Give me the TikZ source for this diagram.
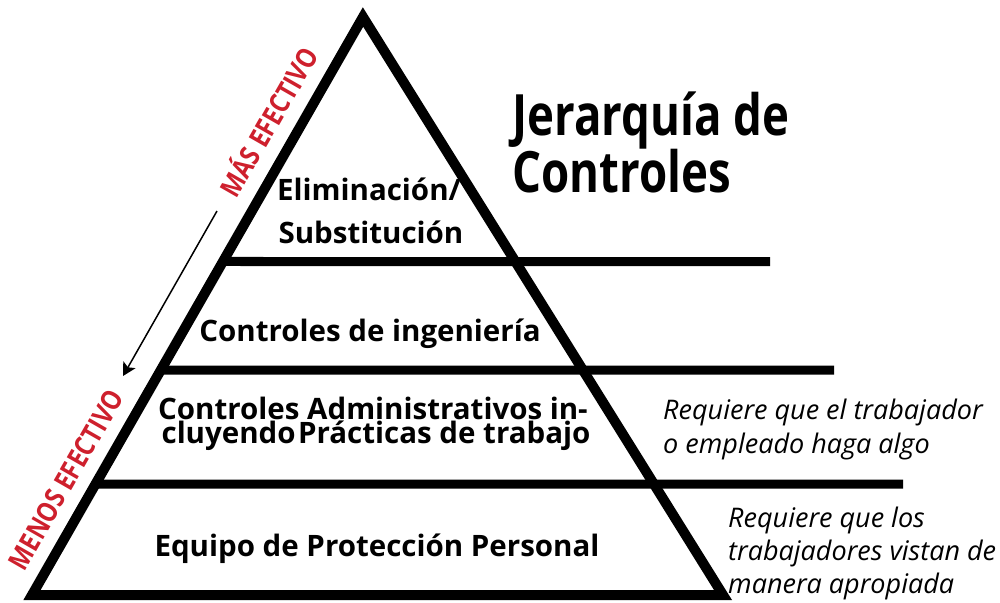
\documentclass[tikz,border=0pt]{standalone}
\usepackage{fontspec}
\usepackage{graphicx}
\setmainfont{Open Sans}
\usetikzlibrary{arrows.meta,calc}
\definecolor{redlab}{RGB}{206,32,45}
\begin{document}
\begin{tikzpicture}[x=1pt,y=-1pt,
  edge/.style={line width=10pt, line join=miter},
  tier/.style={line width=9pt},
  lab/.style={font=\fontsize{29.5}{30}\selectfont\bfseries, anchor=base, inner sep=0pt},
  note/.style={font=\fontsize{27}{30}\selectfont\itshape, anchor=base west, inner sep=0pt},
  eff/.style={font=\fontsize{28}{30}\selectfont\bfseries, text=redlab, rotate=60.2, inner sep=0pt},
  ttl/.style={font=\fontsize{57}{60}\selectfont\bfseries, anchor=base west, inner sep=0pt},
  flow/.style={line width=1.5pt, -{Stealth[length=13pt,width=14pt,inset=3pt]}}]
\useasboundingbox (0,0) rectangle (1000,602);
% triangle
\coordinate (L) at (32,595);
\coordinate (T) at (363,17);
\coordinate (R) at (723,595);
% tier lines
\coordinate (a1) at ($(L)!0.577!(T)$);
\coordinate (b1) at (770,261.5);
\coordinate (a2) at ($(L)!0.389!(T)$);
\coordinate (b2) at (834,370);
\coordinate (a3) at ($(L)!0.192!(T)$);
\coordinate (b3) at (903,484);
\draw[tier] (a1) -- (b1);
\draw[tier] (a2) -- (b2);
\draw[tier] (a3) -- (b3);
\draw[edge] (L) -- (T) -- (R) -- cycle;
% labels in tiers
\node[lab] (e1) at (369,200) {Eliminación/};
\node[lab] (e2) at (371,243) {Substitución};
\node[lab] (ing) at (370,341) {Controles de ingeniería};
\node[lab] (adm1) at (373,419) {Controles Administrativos in-};
\node[lab] (adm2) at (376,443) {cluyendo\hspace{0.08em}Prácticas de trabajo};
\node[lab] (epp) at (377,556) {Equipo de Protección Personal};
% title
\node[ttl] (t1) at (512,135) {\scalebox{0.8}[1]{Jerarquía de}};
\node[ttl] (t2) at (512,192) {\scalebox{0.8}[1]{Controles}};
% notes
\node[note] (n1) at (663,419) {Requiere que el trabajador};
\node[note] (n2) at (663,453) {o empleado haga algo};
\node[note] (n3) at (728,527) {Requiere que los};
\node[note] (n4) at (728,560) {trabajadores vistan de};
\node[note] (n5) at (728,593) {manera apropiada};
% effectiveness
\node[eff] (mas) at (267,121) {\scalebox{0.84}[1]{MÁS EFECTIVO}};
\node[eff] (menos) at (66,480) {\scalebox{0.84}[1]{MENOS EFECTIVO}};
\coordinate (s) at (217,211);
\coordinate (e) at (123,376);
\draw[flow] (s) -- (e);
\end{tikzpicture}
\end{document}
